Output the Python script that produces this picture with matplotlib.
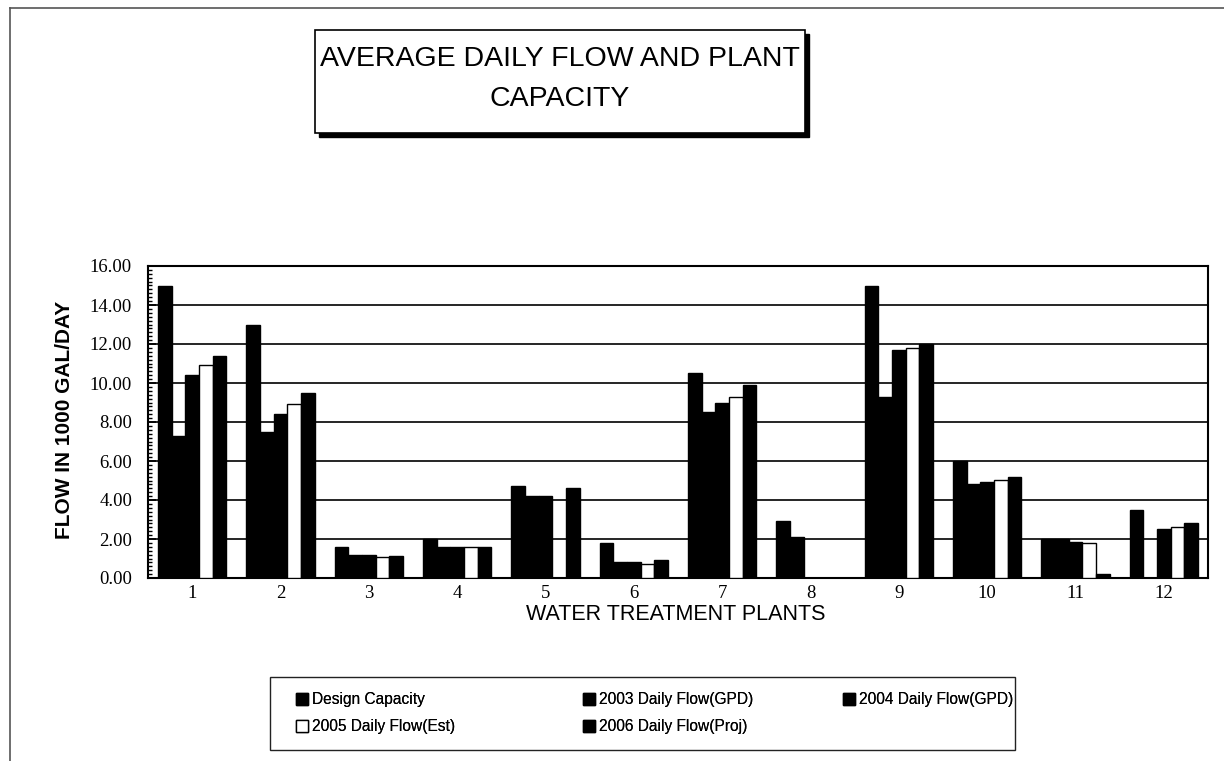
import matplotlib
matplotlib.use("Agg")
import matplotlib.pyplot as plt
import numpy as np
from matplotlib.patches import Rectangle
from matplotlib.lines import Line2D
from matplotlib.ticker import MultipleLocator

# plants 1..12
plants = [str(i) for i in range(1, 13)]

design_capacity = [15.0, 13.0, 1.6, 2.0, 4.7, 1.8, 10.5, 2.9, 15.0, 6.0, 2.0, 3.5]
flow_2003 = [7.3, 7.5, 1.2, 1.6, 4.2, 0.8, 8.5, 2.1, 9.3, 4.8, 2.0, 0.0]
flow_2004 = [10.4, 8.4, 1.2, 1.6, 4.2, 0.8, 9.0, 0.0, 11.7, 4.9, 1.85, 2.5]
flow_2005 = [10.9, 8.9, 1.1, 1.6, 0.0, 0.7, 9.3, 0.0, 11.8, 5.05, 1.8, 2.6]
flow_2006 = [11.4, 9.5, 1.15, 1.6, 4.6, 0.9, 9.9, 0.0, 12.0, 5.2, 0.2, 2.8]

series = [
    ("Design Capacity", design_capacity, "black"),
    ("2003 Daily Flow(GPD)", flow_2003, "black"),
    ("2004 Daily Flow(GPD)", flow_2004, "black"),
    ("2005 Daily Flow(Est)", flow_2005, "white"),
    ("2006 Daily Flow(Proj)", flow_2006, "black"),
]

SANS = "Liberation Sans"
SERIF = "Liberation Serif"

W, H = 1224, 761
fig = plt.figure(figsize=(W / 100, H / 100), dpi=100)

# axes placed in pixel terms
left, right, top, bottom = 148, 1208, 266, 578
ax = fig.add_axes([left / W, 1 - bottom / H, (right - left) / W, (bottom - top) / H])

x = np.arange(1, 13)
bw = 0.155
handles = []
for i, (name, vals, col) in enumerate(series):
    b = ax.bar(x + (i - 2) * bw, vals, width=bw, color=col, edgecolor="black",
               linewidth=1.0, zorder=3, label=name)
    handles.append(b)

ax.set_xlim(0.5, 12.5)
ax.set_ylim(0, 16)
ax.set_xticks(x)
ax.set_xticklabels(plants, fontfamily=SERIF, fontsize=13.5)
ax.yaxis.set_major_locator(MultipleLocator(2))
ax.yaxis.set_minor_locator(MultipleLocator(0.2))
ax.set_yticklabels([f"{v:.2f}" for v in ax.get_yticks()], fontfamily=SERIF, fontsize=13.5)
ax.tick_params(axis="y", which="major", direction="in", length=6, width=1.2, pad=11.5)
ax.tick_params(axis="y", which="minor", direction="in", length=3, width=1.0)
ax.tick_params(axis="x", length=0, pad=5)
ax.grid(axis="y", color="black", linewidth=1.2, zorder=0)
for s in ax.spines.values():
    s.set_linewidth(1.5)
    s.set_color("black")

# axis titles
fig.text(65 / W, 1 - 420 / H, "FLOW IN 1000 GAL/DAY", rotation=90, ha="center",
         va="center", fontfamily=SANS, fontweight="bold", fontsize=15)
fig.text(676 / W, 1 - 614 / H, "WATER TREATMENT PLANTS", ha="center", va="center",
         fontfamily=SANS, fontsize=15.5)

# title box with drop shadow
tx0, ty0, tx1, ty1 = 315, 30, 805, 133
fig.patches.append(Rectangle(((tx0 + 4) / W, 1 - (ty1 + 4) / H), (tx1 - tx0) / W,
                             (ty1 - ty0) / H, transform=fig.transFigure,
                             facecolor="black", edgecolor="black", zorder=1))
fig.patches.append(Rectangle((tx0 / W, 1 - ty1 / H), (tx1 - tx0) / W, (ty1 - ty0) / H,
                             transform=fig.transFigure, facecolor="white",
                             edgecolor="black", linewidth=1.2, zorder=2))
fig.text((tx0 + tx1) / 2 / W, 1 - 79 / H, "AVERAGE DAILY FLOW AND PLANT\nCAPACITY",
         ha="center", va="center", fontfamily=SANS, fontsize=20.5, linespacing=1.65,
         zorder=3)

# outer chart border (top and left edges visible)
fig.add_artist(Line2D([10 / W, 10 / W], [0, 1 - 8 / H], transform=fig.transFigure,
                      color="#555555", linewidth=1.2))
fig.add_artist(Line2D([10 / W, 1], [1 - 8 / H, 1 - 8 / H], transform=fig.transFigure,
                      color="#555555", linewidth=1.2))

# legend frame
lx0, ly0, lx1, ly1 = 270, 677, 1015, 750
fig.patches.append(Rectangle((lx0 / W, 1 - ly1 / H), (lx1 - lx0) / W, (ly1 - ly0) / H,
                             transform=fig.transFigure, facecolor="white",
                             edgecolor="#222222", linewidth=1.0))

# legend entries laid out row-wise in columns, like the original
columns = [([0, 3], 296), ([1, 4], 583), ([2], 843)]
for idx, xpos in columns:
    lg = fig.legend([handles[i] for i in idx], [series[i][0] for i in idx],
                    loc="upper left", bbox_to_anchor=(xpos / W, 1 - 692 / H),
                    prop={"family": SANS, "size": 11.2}, frameon=False,
                    handlelength=0.8, handleheight=0.8, handletextpad=0.25,
                    borderpad=0, borderaxespad=0, labelspacing=0.8)
    fig.add_artist(lg)

fig.savefig("out.png", dpi=100)
